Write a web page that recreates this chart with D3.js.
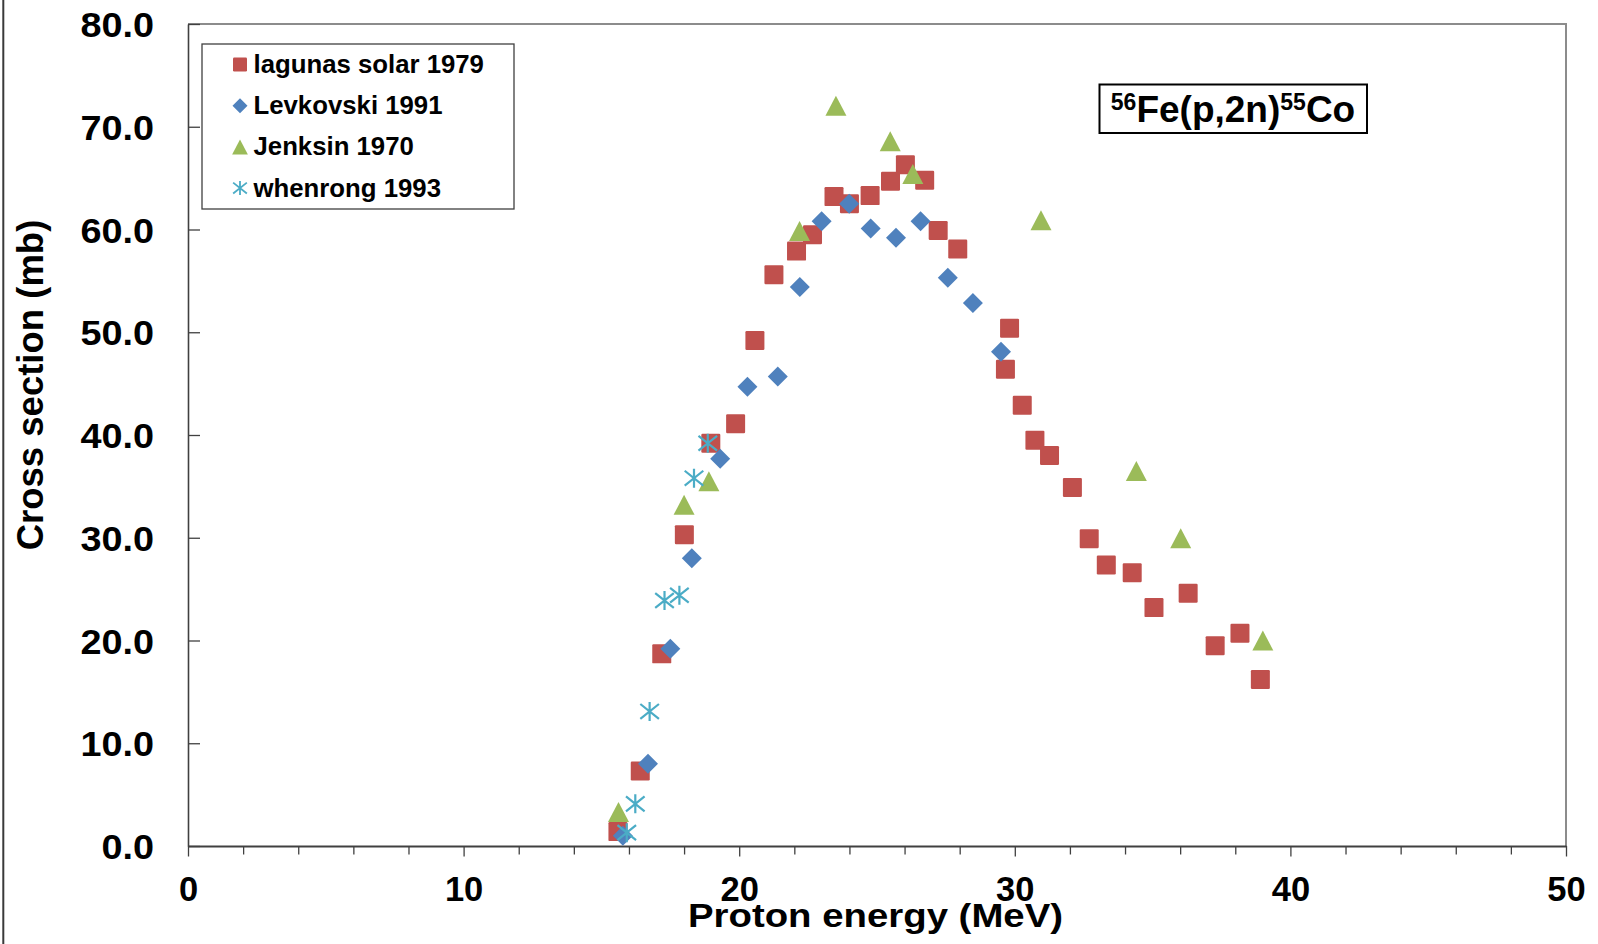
<!DOCTYPE html>
<html>
<head>
<meta charset="utf-8">
<script src="https://cdn.jsdelivr.net/npm/d3@7"></script>
<style>
  html, body { margin: 0; padding: 0; background: #fff; }
  svg { display: block; font-family: "Liberation Sans", Arial, sans-serif; font-weight: bold; }
</style>
</head>
<body>
<svg id="chart" width="1598" height="944"></svg>
<script>
// ---------- data ----------
const seriesNames = ["lagunas solar 1979", "Levkovski 1991", "Jenksin 1970", "whenrong 1993"];
const seriesColors = ["#C0504D", "#4F81BD", "#9BBB59", "#4BACC6"];
const seriesShapes = ["square", "diamond", "triangle", "star"];

const lagunas = [
  [15.60, 1.4], [16.41, 7.3], [17.19, 18.7], [18.01, 30.3], [18.97, 39.2], [19.87, 41.1],
  [20.57, 49.2], [21.26, 55.6], [22.08, 57.9], [22.66, 59.5], [23.44, 63.2], [24.00, 62.5],
  [24.75, 63.3], [25.49, 64.7], [26.03, 66.3], [26.73, 64.8], [27.22, 59.9], [27.93, 58.1],
  [29.81, 50.4], [29.66, 46.4], [30.27, 42.9], [30.73, 39.5], [31.26, 38.0], [32.09, 34.9],
  [32.70, 29.9], [33.32, 27.35], [34.26, 26.6], [35.05, 23.2], [36.29, 24.6], [37.27, 19.5],
  [38.17, 20.7], [38.91, 16.2]
];
const levkovski = [
  [15.78, 1.0], [16.69, 8.0], [17.50, 19.2], [18.28, 28.0], [19.31, 37.7], [20.30, 44.7],
  [21.40, 45.7], [22.20, 54.4], [22.99, 60.8], [23.99, 62.5], [24.77, 60.1], [25.69, 59.2],
  [26.58, 60.8], [27.57, 55.3], [28.48, 52.85], [29.50, 48.1]
];
const jenksin = [
  [15.62, 3.3], [18.00, 33.2], [18.90, 35.5], [22.19, 59.85], [23.51, 72.05], [25.48, 68.6],
  [26.30, 65.4], [30.95, 60.9], [34.41, 36.5], [36.02, 29.95], [39.00, 20.0]
];
const whenrong = [
  [15.92, 1.3], [16.23, 4.1], [16.75, 13.1], [17.29, 23.9], [17.83, 24.4], [18.36, 35.8], [18.86, 39.2]
];
const allSeries = [lagunas, levkovski, jenksin, whenrong];

const xMajorTicks = [0, 10, 20, 30, 40, 50];
const xMinorTicks = [2, 4, 6, 8, 12, 14, 16, 18, 22, 24, 26, 28, 32, 34, 36, 38, 42, 44, 46, 48];
const yTicks = [0, 10, 20, 30, 40, 50, 60, 70, 80];

const xTitle = "Proton energy (MeV)";
const yTitle = "Cross section (mb)";

// ---------- layout ----------
const L = 188, R = 1566, T = 24, B = 846;
const svg = d3.select("#chart");

const x = d3.scaleLinear().domain([0, 50]).range([L, R]);
const y = d3.scaleLinear().domain([0, 80]).range([B, T]);

// horizontally stretch text (reference glyphs are slightly wide)
function stretch(sel, f) {
  sel.each(function () {
    const w = this.getComputedTextLength();
    d3.select(this).attr("textLength", w * f).attr("lengthAdjust", "spacingAndGlyphs");
  });
}

// outer chart frame (only left edge visible in reference)
svg.append("line").attr("x1", 3.3).attr("x2", 3.3).attr("y1", 0).attr("y2", 944)
  .attr("stroke", "#3a3a3a").attr("stroke-width", 2);

// plot frame top/right (gray)
svg.append("path")
  .attr("d", `M${L},${T}H${R}V${B}`)
  .attr("fill", "none").attr("stroke", "#8c8c8c").attr("stroke-width", 2);

// y axis
const yAxis = svg.append("g").attr("transform", `translate(${L},0)`)
  .call(d3.axisLeft(y).tickValues(yTicks).tickSize(-12).tickSizeOuter(0).tickPadding(34)
    .tickFormat(d3.format(".1f")));
yAxis.select(".domain").attr("stroke", "#404040").attr("stroke-width", 1.6);
yAxis.selectAll(".tick line").attr("stroke", "#404040").attr("stroke-width", 1.3);
yAxis.selectAll(".tick text").attr("font-size", 35).attr("font-weight", "bold")
  .attr("font-family", "Liberation Sans, Arial, sans-serif").attr("fill", "#000")
  .attr("dy", "0.36em");
stretch(yAxis.selectAll(".tick text"), 1.08);

// x axis minor ticks
const xMinor = svg.append("g").attr("transform", `translate(0,${B})`)
  .call(d3.axisBottom(x).tickValues(xMinorTicks).tickSize(8.5).tickSizeOuter(0).tickFormat(""));
xMinor.select(".domain").remove();
xMinor.selectAll(".tick line").attr("stroke", "#404040").attr("stroke-width", 1.3);

// x axis major
const xAxis = svg.append("g").attr("transform", `translate(0,${B})`)
  .call(d3.axisBottom(x).tickValues(xMajorTicks).tickSize(10.5).tickSizeOuter(0).tickFormat(d3.format("d")));
xAxis.select(".domain").attr("stroke", "#404040").attr("stroke-width", 1.8);
xAxis.selectAll(".tick line").attr("stroke", "#404040").attr("stroke-width", 1.3);
xAxis.selectAll(".tick text").attr("font-size", 34.5).attr("font-weight", "bold")
  .attr("font-family", "Liberation Sans, Arial, sans-serif").attr("fill", "#000")
  .attr("y", 55).attr("dy", 0);

// axis titles
const xt = svg.append("text").attr("x", 875.5).attr("y", 926.7).attr("text-anchor", "middle")
  .attr("font-size", 33.5).attr("fill", "#000").text(xTitle);
xt.attr("textLength", 375).attr("lengthAdjust", "spacingAndGlyphs");
svg.append("text").attr("transform", "translate(43,385) rotate(-90)").attr("text-anchor", "middle")
  .attr("font-size", 36.5).attr("fill", "#000").text(yTitle);

// ---------- marker drawing ----------
function drawMarker(g, shape, color, s) {
  const h = s / 2;
  if (shape === "square") {
    g.append("rect").attr("x", -h).attr("y", -h).attr("width", s).attr("height", s)
      .attr("rx", 1.2).attr("fill", color);
  } else if (shape === "diamond") {
    g.append("path").attr("d", `M0,${-h}L${h},0L0,${h}L${-h},0Z`).attr("fill", color);
  } else if (shape === "triangle") {
    g.append("path").attr("d", `M0,${-h}L${h * 1.05},${h}L${-h * 1.05},${h}Z`).attr("fill", color);
  } else if (shape === "star") {
    const a = h * 0.98, b = h * 0.78;
    g.append("path")
      .attr("d", `M0,${-h}V${h}M${-a},${-b}L${a},${b}M${-a},${b}L${a},${-b}`)
      .attr("stroke", color).attr("stroke-width", s > 15 ? 2.2 : 1.8).attr("fill", "none");
  }
}

const plot = svg.append("g");
allSeries.forEach((data, i) => {
  const size = [19, 20, 20, 19][i];
  plot.append("g").selectAll("g").data(data).join("g")
    .attr("transform", d => `translate(${x(d[0])},${y(d[1])})`)
    .each(function () { drawMarker(d3.select(this), seriesShapes[i], seriesColors[i], size); });
});

// ---------- legend ----------
const legend = svg.append("g");
legend.append("rect").attr("x", 202).attr("y", 44).attr("width", 312).attr("height", 165)
  .attr("fill", "#fff").attr("stroke", "#404040").attr("stroke-width", 1.3);
seriesNames.forEach((name, i) => {
  const cy = 64.5 + i * 41.2;
  const mg = legend.append("g").attr("transform", `translate(240,${cy})`);
  drawMarker(mg, seriesShapes[i], seriesColors[i], [14, 15, 15, 14][i]);
  const lt = legend.append("text").attr("x", 253.5).attr("y", cy + 8.5).attr("font-size", 25)
    .attr("fill", "#000").text(name);
  stretch(lt, 1.03);
});

// ---------- reaction annotation ----------
const ann = svg.append("g");
ann.append("rect").attr("x", 1099.5).attr("y", 84.5).attr("width", 267.5).attr("height", 48.5)
  .attr("fill", "#fff").attr("stroke", "#000").attr("stroke-width", 2);
const t = ann.append("text").attr("x", 1233).attr("y", 122.3).attr("text-anchor", "middle")
  .attr("font-size", 37).attr("fill", "#000");
t.append("tspan").attr("font-size", 23).attr("dy", -12).text("56");
t.append("tspan").attr("dy", 12).text("Fe(p,2n)");
t.append("tspan").attr("font-size", 23).attr("dy", -12).text("55");
t.append("tspan").attr("dy", 12).text("Co");
</script>
</body>
</html>
